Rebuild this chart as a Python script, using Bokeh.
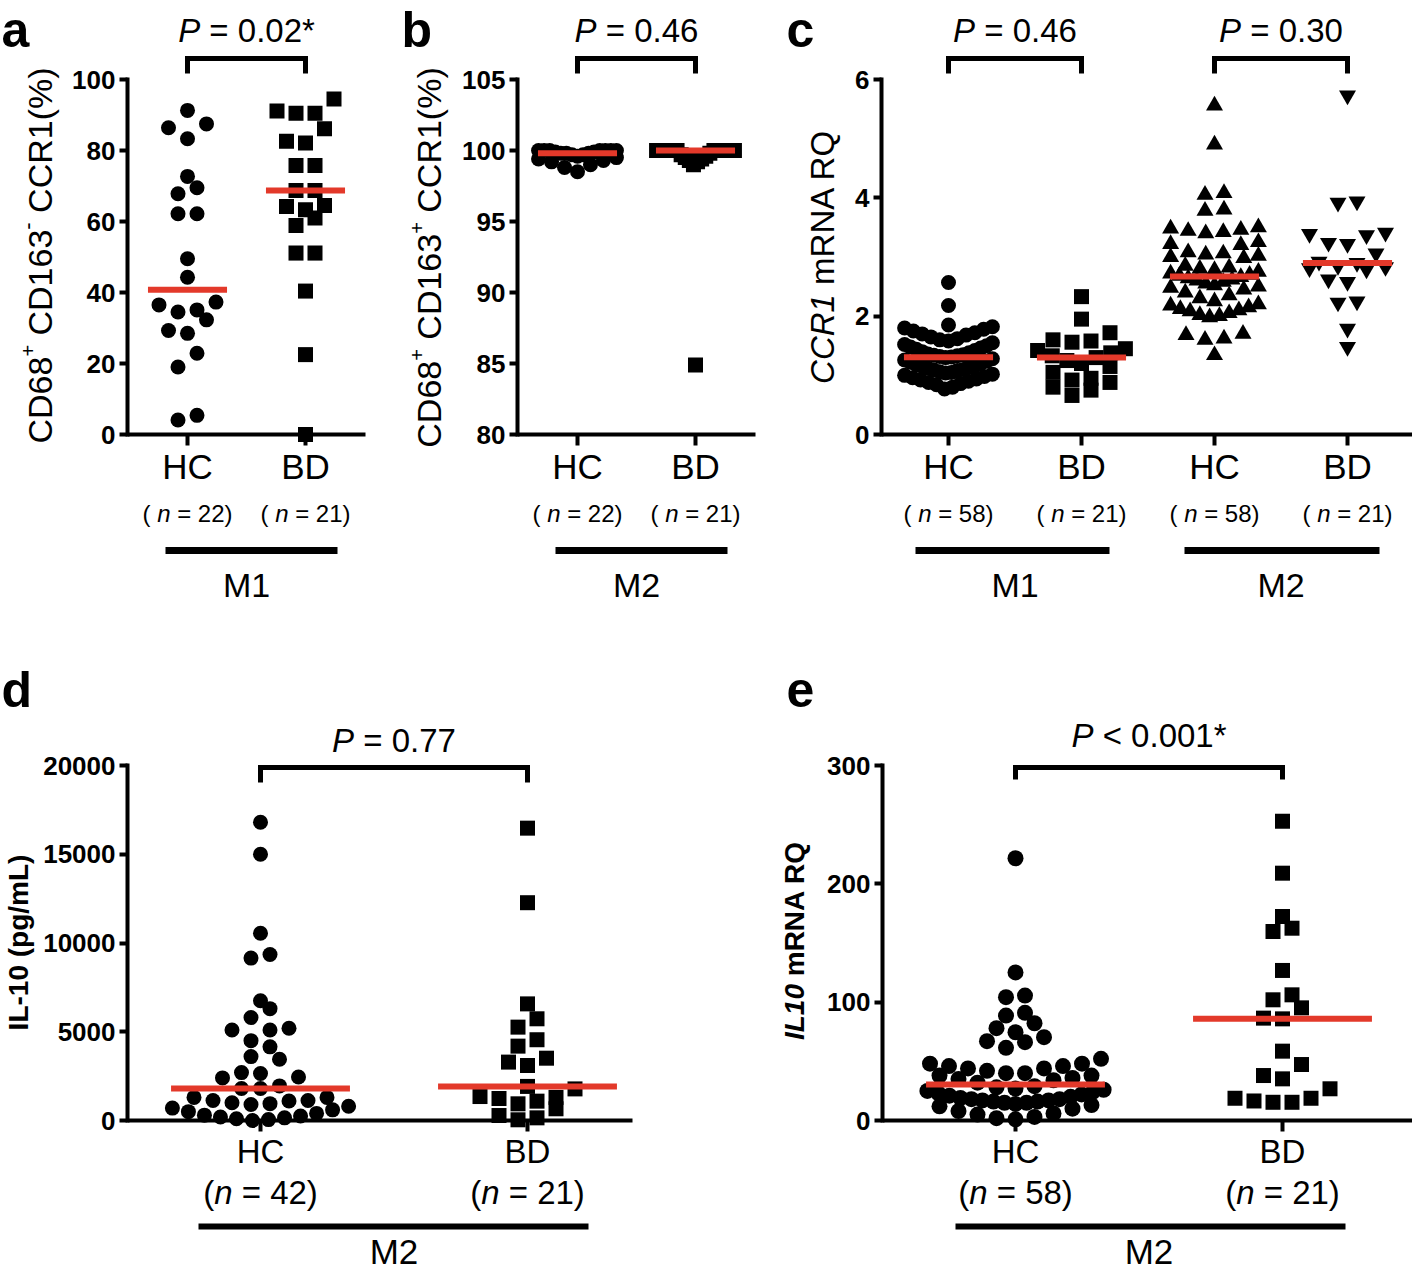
import math
import numpy as np
from bokeh.plotting import figure
from bokeh.models import Range1d, FixedTicker, PrintfTickFormatter
from bokeh.layouts import row, column
from bokeh.core.properties import value
from bokeh.embed import file_html
from bokeh.resources import INLINE

FONT = "Liberation Sans"
RED = "#E3392A"
BLACK = "#000000"

# ---------------- data ----------------
a_cats = ["HC", "BD"]
a_hc = [91.3, 87.5, 86.4, 83.3, 72.7, 69.5, 67.8, 62.2, 62.2, 49.5, 44.3,
        37.3, 36.5, 35.1, 34.5, 32.3, 29.3, 28.5, 22.9, 19.0, 5.4, 4.1]
a_bd = [94.5, 91.1, 90.5, 90.5, 86.1, 82.6, 82.1, 75.8, 75.8, 68.7, 68.7,
        64.5, 64.2, 63.3, 61.0, 58.9, 51.1, 51.1, 40.4, 22.5, 0.0]
a_ticks = [0, 20, 40, 60, 80, 100]
a_group = "M1"
a_p = "= 0.02*"

b_cats = ["HC", "BD"]
b_hc = [100.0, 100.0, 100.0, 100.0, 100.0, 100.0, 100.0, 99.9, 99.9, 99.8, 99.8,
        99.8, 99.7, 99.7, 99.6, 99.5, 99.4, 99.3, 99.2, 99.0, 98.8, 98.5]
b_bd = [100.0, 100.0, 100.0, 100.0, 100.0, 100.0, 100.0, 100.0, 100.0, 100.0, 100.0,
        100.0, 99.8, 99.7, 99.6, 99.5, 99.4, 99.3, 99.2, 99.0, 84.9]
b_ticks = [80, 85, 90, 95, 100, 105]
b_group = "M2"
b_p = "= 0.46"

c_cats = ["HC", "BD", "HC", "BD"]
c_m1_hc = [2.57, 2.18, 1.85, 1.82, 1.80, 1.78, 1.75, 1.72, 1.70, 1.68,
           1.65, 1.62, 1.60, 1.58, 1.55, 1.52, 1.50, 1.48, 1.46, 1.44,
           1.42, 1.40, 1.38, 1.36, 1.35, 1.34, 1.33, 1.32, 1.31, 1.30,
           1.28, 1.26, 1.24, 1.22, 1.20, 1.18, 1.16, 1.15, 1.14, 1.12,
           1.10, 1.09, 1.08, 1.06, 1.05, 1.04, 1.02, 1.00, 0.98, 0.96,
           0.94, 0.92, 0.90, 0.88, 0.86, 0.84, 0.80, 0.77]
c_m1_bd = [2.33, 1.95, 1.72, 1.60, 1.58, 1.56, 1.45, 1.42, 1.38, 1.33, 1.30,
           1.25, 1.20, 1.15, 1.05, 0.95, 0.92, 0.88, 0.80, 0.75, 0.66]
c_m2_hc = [5.56, 4.90, 4.08, 4.05, 3.80, 3.78,
           3.50, 3.48, 3.46, 3.44, 3.42, 3.40,
           3.25, 3.22, 3.20,
           3.08, 3.06, 3.04, 3.02, 3.00, 2.98,
           2.85, 2.82, 2.80, 2.78, 2.75, 2.72,
           2.70, 2.68, 2.66, 2.64, 2.62, 2.60, 2.58, 2.55, 2.52, 2.50,
           2.48, 2.45, 2.40, 2.35,
           2.30, 2.25, 2.20, 2.18, 2.15, 2.12, 2.10, 2.08, 2.05, 2.02, 2.00, 1.98,
           1.70, 1.68, 1.62, 1.60,
           1.34]
c_m2_bd = [5.73, 3.94, 3.92, 3.41, 3.39, 3.37, 3.24, 3.22, 3.06, 2.92, 2.90,
           2.85, 2.83, 2.81, 2.79, 2.62, 2.58, 2.25, 2.23, 1.79, 1.48]
c_ticks = [0, 2, 4, 6]
c_groups = ["M1", "M2"]
c_p = ["= 0.46", "= 0.30"]

d_cats = ["HC", "BD"]
d_hc = [16800, 15000, 10550, 9350, 9150, 6750, 6300, 5800, 5200, 5100, 5100,
        4500, 4150, 3600, 3450, 2700, 2650, 2450, 2400, 1950, 1800, 1800,
        1300, 1300, 1130, 1130, 1100, 1000, 950, 900, 800, 700, 600, 500,
        400, 300, 250, 200, 150, 100, 50, 0]
d_bd = [16470, 12270, 6570, 5730, 5260, 4550, 4190, 3510, 3290, 3100, 1920,
        1780, 1350, 1300, 1240, 1090, 940, 660, 280, 150, 40]
d_ticks = [0, 5000, 10000, 15000, 20000]
d_group = "M2"
d_p = "= 0.77"

e_cats = ["HC", "BD"]
e_hc = [221.6, 125.1, 105.6, 104.2, 91.0, 88.7, 82.2, 78.0, 74.6, 70.4,
        67.0, 66.2, 61.4, 52.1, 48, 48, 46, 46, 44, 44,
        42, 40, 40, 38, 38, 36, 35, 34, 32, 29,
        28, 27, 26, 25, 24, 23, 22, 21, 20, 19,
        18, 18, 17, 17, 16, 16, 15, 15, 14, 13,
        12, 10, 8, 6, 5, 3, 2, 1]
e_bd = [252.9, 209.0, 172.4, 162.5, 159.7, 126.8, 106.2, 102.0, 95.2, 86.5, 85.9,
        58.6, 47.3, 38.0, 35.2, 26.8, 18.8, 18.8, 16.5, 15.4, 15.4]
e_ticks = [0, 100, 200, 300]
e_group = "M2"
e_p = "< 0.001*"

# ---------------- text metrics (Arial / Liberation Sans) ----------------
REG = {' ': 278, '(': 333, ')': 333, '*': 389, '.': 278, '/': 278, '<': 584,
       '=': 584, '%': 889, '-': 333, '+': 584, 'A': 667, 'B': 667, 'C': 722,
       'D': 722, 'H': 722, 'I': 278, 'L': 556, 'M': 833, 'N': 722, 'P': 667,
       'Q': 778, 'R': 722, 'm': 833, 'n': 556, 'p': 556, 'g': 556}
BOLD = dict(REG)
BOLD.update({'L': 611, 'p': 611, 'g': 611, 'm': 889, 'A': 722, 'B': 722, 'n': 611})


def tw(s, size, bold=False):
    t = BOLD if bold else REG
    return sum(t.get(ch, 556) for ch in s) * size / 1000.0


def style_of(italic, bold):
    if bold and italic:
        return "bold italic"
    if bold:
        return "bold"
    if italic:
        return "italic"
    return "normal"


def draw_rich(p, x, y, segs, size, bold=False):
    ws = [tw(s, size, bold) for s, it in segs]
    off = -sum(ws) / 2.0
    for (s, it), w in zip(segs, ws):
        lead = len(s) - len(s.lstrip(" "))
        p.text(x=[x], y=[y], text=[s.strip()], x_offset=off + tw(s[:lead], size, bold),
               text_font=value(FONT), text_font_size=value(f"{size}px"),
               text_font_style=value(style_of(it, bold)), text_align=value("left"),
               text_baseline=value("middle"), text_color=BLACK)
        off += w


def draw_vtext(p, bx, cy, segs, bold=False):
    # rotated (bottom-to-top) rich text in a gutter figure whose data units are pixels
    ws = [tw(s, sz, bold) for s, it, sz, r in segs]
    pos = cy - sum(ws) / 2.0
    for (s, it, sz, r), w in zip(segs, ws):
        lead = len(s) - len(s.lstrip(" "))
        p.text(x=[bx - r], y=[pos + tw(s[:lead], sz, bold)], text=[s.strip()], angle=math.pi / 2,
               text_font=value(FONT), text_font_size=value(f"{sz}px"),
               text_font_style=value(style_of(it, bold)), text_align=value("left"),
               text_baseline=value("middle"), text_color=BLACK)
        pos += w


def swarm(vals, cx, ky, ux, diam=15.0, step=19.0, maxhalf=0.33):
    v = sorted(vals)
    bins, cur = [], [v[0]]
    for val in v[1:]:
        if (val - cur[0]) * ky < diam:
            cur.append(val)
        else:
            bins.append(cur)
            cur = [val]
    bins.append(cur)
    xs, ys = [], []
    for b in bins:
        n = len(b)
        sp = step / ux
        if n > 1:
            sp = min(sp, 2 * maxhalf / (n - 1))
        offs = [(i - (n - 1) / 2.0) * sp for i in range(n)]
        order = sorted(range(n), key=lambda i: (round(abs(offs[i]), 9), offs[i]))
        for val, idx in zip(b, order):
            xs.append(cx + offs[idx])
            ys.append(val)
    return xs, ys


def blank(fig):
    fig.xgrid.visible = False
    fig.ygrid.visible = False
    fig.outline_line_color = None
    fig.background_fill_color = "white"
    fig.border_fill_color = "white"


# vertical positions (page pixels) of text centres and rules
TOP = dict(cat_size=35, cat_y=466, n_size=24, n_y=513, n_open="( ", bar_y=550, bar_w=7,
           grp_size=34, grp_y=584, p_y=30, br_y=58, br_leg=73, letter_y=29)
BOT_D = dict(cat_size=33, cat_y=1151, n_size=33, n_y=1192, n_open="(", bar_y=1226, bar_w=6,
             grp_size=35, grp_y=1251, p_y=740, br_y=767, br_leg=782, letter_y=689)
BOT_E = dict(BOT_D, p_y=735, br_leg=779)

# gutter: [gleft, left) holds panel letter and y title; main figure [left, left+width)
GA = dict(gleft=0, left=60, top=0, width=332, height=620, axis=127, cat0=187, unit=118, lo=0, hi=100,
          lo_px=434, hi_px=79, base_end=365, letter_x=1)
GB = dict(gleft=392, left=452, top=0, width=320, height=620, axis=517, cat0=577, unit=118, lo=80, hi=105,
          lo_px=434, hi_px=79, base_end=755, letter_x=401)
GC = dict(gleft=772, left=848, top=0, width=564, height=620, axis=881, cat0=948, unit=133, lo=0, hi=6,
          lo_px=434, hi_px=79, base_end=1412, letter_x=786)
GD = dict(gleft=0, left=36, top=620, width=684, height=652, axis=127, cat0=260, unit=267, lo=0, hi=20000,
          lo_px=1120, hi_px=765, base_end=632, letter_x=1)
GE = dict(gleft=720, left=822, top=620, width=590, height=652, axis=882, cat0=1015, unit=267, lo=0, hi=300,
          lo_px=1120, hi_px=765, base_end=1412, letter_x=786)


def make_panel(geo, sty, series, ticks, cats, groups, pvals, letter, ylab):
    gleft, left, top, W, H = geo["gleft"], geo["left"], geo["top"], geo["width"], geo["height"]
    axis, cat0, u = geo["axis"], geo["cat0"], geo["unit"]
    lo, hi, lo_px, hi_px = geo["lo"], geo["hi"], geo["lo_px"], geo["hi_px"]
    bottom = top + H
    k = (lo_px - hi_px) / (hi - lo)

    def yv(px):
        return lo + (lo_px - px) / k

    def xv(px):
        return 1 + (px - cat0) / u

    # ---- gutter with panel letter and y-axis title ----
    gw = left - gleft
    g = figure(width=gw, height=H, x_range=Range1d(gleft, left), y_range=Range1d(0, H),
               x_axis_location=None, y_axis_location=None, output_backend="svg",
               toolbar_location=None, title=None, min_border=0)
    blank(g)
    g.text(x=[geo["letter_x"]], y=[bottom - sty["letter_y"]], text=[letter],
           text_font=value(FONT), text_font_size=value("50px"), text_font_style=value("bold"),
           text_align=value("left"), text_baseline=value("middle"), text_color=BLACK)
    draw_vtext(g, ylab["bx"], bottom - ylab["cy"], ylab["segs"], ylab["bold"])

    # ---- main plot ----
    x0, x1 = xv(axis), xv(left + W)
    p = figure(width=W, height=H, x_range=Range1d(x0, x1), y_range=Range1d(yv(bottom), yv(top)),
               x_axis_location=None, output_backend="svg", toolbar_location=None, title=None,
               min_border_left=axis - left, min_border_right=0, min_border_top=0, min_border_bottom=0)
    blank(p)

    ax = p.yaxis[0]
    ax.bounds = (lo, hi)
    ax.ticker = FixedTicker(ticks=ticks)
    ax.formatter = PrintfTickFormatter(format="%d")
    ax.axis_line_width = 4
    ax.axis_line_cap = "square"
    ax.axis_line_color = BLACK
    ax.major_tick_line_width = 4
    ax.major_tick_line_color = BLACK
    ax.major_tick_out = 8
    ax.major_tick_in = 0
    ax.minor_tick_line_color = None
    ax.major_label_text_font = FONT
    ax.major_label_text_font_style = "bold"
    ax.major_label_text_font_size = "26px"
    ax.major_label_text_color = BLACK
    ax.major_label_standoff = 4

    ncat = len(cats)
    cx = list(range(1, ncat + 1))
    p.segment(x0=[x0], y0=[lo], x1=[xv(geo["base_end"])], y1=[lo], line_width=4, line_color=BLACK)
    p.segment(x0=cx, y0=[lo] * ncat, x1=cx, y1=[yv(lo_px + 11)] * ncat, line_width=4, line_color=BLACK)

    for i, (vals, marker, size) in enumerate(series):
        xs, ys = swarm(vals, i + 1, k, u)
        p.scatter(xs, ys, marker=marker, size=size, fill_color=BLACK, line_color=None)
    for i, (vals, marker, size) in enumerate(series):
        m = float(np.median(vals))
        p.segment(x0=[i + 1 - 0.335], y0=[m], x1=[i + 1 + 0.335], y1=[m], line_width=6, line_color=RED)

    p.text(x=cx, y=[yv(sty["cat_y"])] * ncat, text=cats, text_font=value(FONT),
           text_font_size=value(f'{sty["cat_size"]}px'), text_align=value("center"),
           text_baseline=value("middle"), text_color=BLACK)
    for i, (vals, marker, size) in enumerate(series):
        draw_rich(p, i + 1, yv(sty["n_y"]),
                  [(sty["n_open"], False), ("n", True), (f" = {len(vals)})", False)], sty["n_size"])

    for name, c_lo, c_hi, pl, pr in groups:
        p.segment(x0=[c_lo - pl / u], y0=[yv(sty["bar_y"])], x1=[c_hi + pr / u], y1=[yv(sty["bar_y"])],
                  line_width=sty["bar_w"], line_color=BLACK)
        p.text(x=[(c_lo + c_hi) / 2.0], y=[yv(sty["grp_y"])], text=[name], text_font=value(FONT),
               text_font_size=value(f'{sty["grp_size"]}px'), text_align=value("center"),
               text_baseline=value("middle"), text_color=BLACK)

    for c_lo, c_hi, txt in pvals:
        yb, yl = yv(sty["br_y"]), yv(sty["br_leg"])
        p.multi_line(xs=[[c_lo, c_lo, c_hi, c_hi]], ys=[[yl, yb, yb, yl]], line_width=5,
                     line_color=BLACK, line_join="miter")
        draw_rich(p, (c_lo + c_hi) / 2.0, yv(sty["p_y"]), [("P", True), (" " + txt, False)], 33)
    return g, p


ga, pa = make_panel(GA, TOP, [(a_hc, "circle", 15), (a_bd, "square", 15)], a_ticks, a_cats,
                    [(a_group, 1, 2, 22, 32)], [(1, 2, a_p)], "a",
                    dict(bx=39, cy=255, bold=False,
                         segs=[("CD68", False, 34, 0), ("+", False, 20, 12), (" CD163", False, 34, 0),
                               ("-", False, 22, 12), (" CCR1(%)", False, 34, 0)]))
gb, pb = make_panel(GB, TOP, [(b_hc, "circle", 15), (b_bd, "square", 15)], b_ticks, b_cats,
                    [(b_group, 1, 2, 22, 32)], [(1, 2, b_p)], "b",
                    dict(bx=428, cy=257, bold=False,
                         segs=[("CD68", False, 34, 0), ("+", False, 20, 12), (" CD163", False, 34, 0),
                               ("+", False, 20, 12), (" CCR1(%)", False, 34, 0)]))
gc, pc = make_panel(GC, TOP, [(c_m1_hc, "circle", 15), (c_m1_bd, "square", 15),
                              (c_m2_hc, "triangle", 17), (c_m2_bd, "inverted_triangle", 17)],
                    c_ticks, c_cats,
                    [(c_groups[0], 1, 2, 33, 28), (c_groups[1], 3, 4, 30, 32)],
                    [(1, 2, c_p[0]), (3, 4, c_p[1])], "c",
                    dict(bx=822, cy=256, bold=False,
                         segs=[("CCR1", True, 33, 0), (" mRNA RQ", False, 33, 0)]))
gd, pd_ = make_panel(GD, BOT_D, [(d_hc, "circle", 15), (d_bd, "square", 15)], d_ticks, d_cats,
                     [(d_group, 1, 2, 62, 61)], [(1, 2, d_p)], "d",
                     dict(bx=18, cy=942, bold=True, segs=[("IL-10 (pg/mL)", False, 28, 0)]))
ge, pe = make_panel(GE, BOT_E, [(e_hc, "circle", 16), (e_bd, "square", 15)], e_ticks, e_cats,
                    [(e_group, 1, 2, 60, 63)], [(1, 2, e_p)], "e",
                    dict(bx=794, cy=940, bold=True,
                         segs=[("IL10", True, 28, 0), (" mRNA RQ", False, 28, 0)]))

layout = column(row(ga, pa, gb, pb, gc, pc), row(gd, pd_, ge, pe))
open("out.html", "w").write(file_html(layout, INLINE))
